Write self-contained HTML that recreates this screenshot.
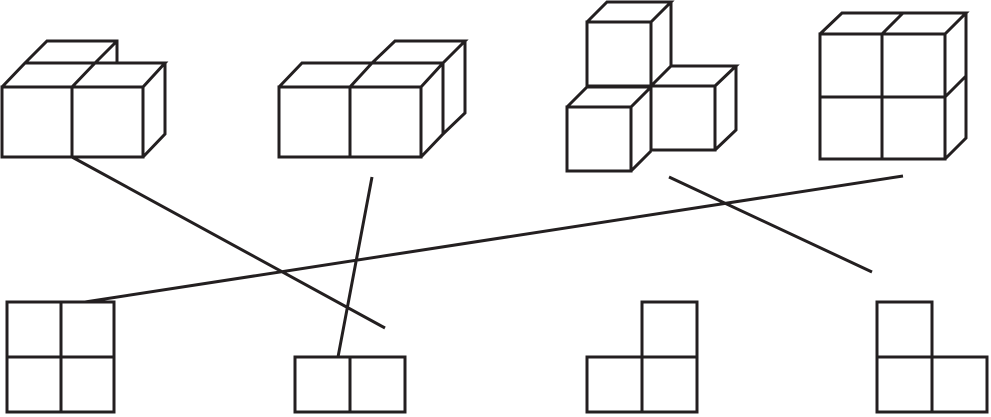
<!DOCTYPE html>
<html><head><meta charset="utf-8"><style>html,body{margin:0;padding:0;background:#fff}svg{display:block}</style></head>
<body>
<svg width="991" height="417" viewBox="0 0 991 417" xmlns="http://www.w3.org/2000/svg">
<g fill="none" stroke="#231f20" stroke-width="3" stroke-linejoin="miter">
<!-- Fig1 -->
<rect x="2" y="87" width="70" height="70"/><rect x="72" y="87" width="71" height="70"/>
<path d="M2,87 L25,63 L165,63 L143,87 M72,87 L95,63 M143,157 L165,134 L165,63 M25,63 L47,41 L117,41 L117,63 M95,63 L117,41"/>
<!-- Fig2 -->
<rect x="279" y="87" width="71" height="70"/><rect x="350" y="87" width="71" height="70"/>
<path d="M279,87 L302,63 L443,63 L421,87 M350,87 L372,63 L395,41 L465,41 L443,63 M443,63 L443,134 L421,157 M465,41 L465,113 L443,134"/>
<!-- Fig3 -->
<rect x="587" y="22" width="64" height="64"/>
<path d="M587,22 L607,2 L671,2 L651,22 M671,2 L671,66"/>
<rect x="651" y="86" width="64" height="64"/>
<path d="M651,86 L671,66 L736,66 L715,86 M736,66 L736,130 L715,150"/>
<rect x="567" y="107" width="64" height="64"/>
<path d="M567,107 L587,87 L651,87 M631,107 L651,87 M631,171 L651,151"/>
<!-- Fig4 -->
<rect x="820" y="34" width="125" height="125"/>
<path d="M882,34 L882,159 M820,97 L945,97 M820,34 L842,13 L966,13 L945,34 M882,34 L903,13 M966,13 L966,138 L945,159 M945,97 L966,76"/>
<!-- bottom -->
<rect x="7" y="302" width="107" height="110"/><path d="M61,302 L61,412 M7,357 L114,357"/>
<rect x="295" y="357" width="110" height="55"/><path d="M350,357 L350,412"/>
<path d="M587,357 L697,357 L697,412 L587,412 Z M642,357 L642,412 M642,357 L642,302 L697,302 L697,357"/>
<path d="M877,357 L987,357 L987,412 L877,412 Z M932,357 L932,412 M877,357 L877,302 L932,302 L932,357"/>
<!-- connectors -->
<path d="M72,157 L385,328 M372,177 L338,357 M903,176 L85,302 M669,177 L872,272"/>
</g>
</svg>
</body></html>
